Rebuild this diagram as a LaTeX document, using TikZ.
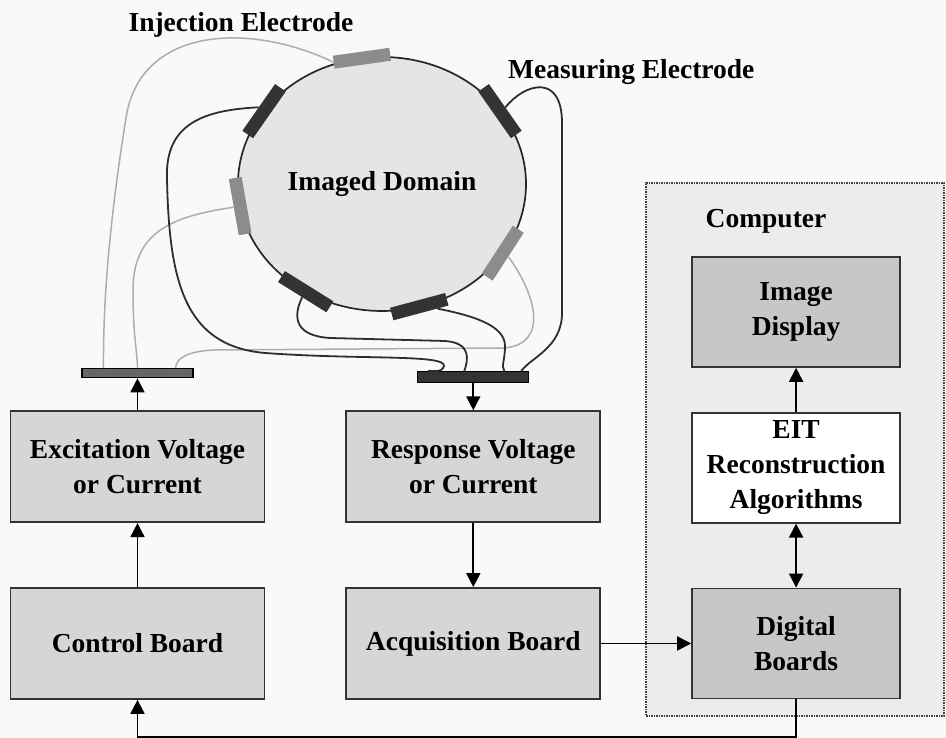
\documentclass[tikz,border=0pt]{standalone}
\usepackage{fontspec}
\setmainfont{Liberation Serif}
\usepackage{tikz}
\usetikzlibrary{positioning,arrows.meta,shapes.geometric,calc}
\definecolor{pagefill}{gray}{0.975}
\definecolor{compfill}{gray}{0.925}
\definecolor{boxfill}{gray}{0.84}
\definecolor{darkfill}{gray}{0.78}
\definecolor{domfill}{gray}{0.9}
\definecolor{injcol}{gray}{0.55}
\definecolor{meascol}{gray}{0.2}
\definecolor{wirelight}{gray}{0.68}
\definecolor{wiredark}{gray}{0.18}
\newcommand{\labelfont}{\fontsize{27.5}{35}\selectfont\bfseries}
\tikzset{
  blockbox/.style = {rectangle, draw=black!80, line width=1.8pt, fill=boxfill,
                     minimum width=254pt, minimum height=111pt, align=center,
                     font=\labelfont},
  pcbox/.style    = {blockbox, minimum width=208pt, minimum height=110pt},
  domnode/.style  = {ellipse, draw=black!85, line width=1.7pt, fill=domfill,
                     minimum width=288pt, minimum height=254pt, font=\labelfont},
  elec/.style     = {rectangle, minimum width=57pt, minimum height=13pt, inner sep=0pt},
  bus/.style      = {rectangle, draw=black, line width=1.2pt, minimum width=111pt,
                     inner sep=0pt},
  injwire/.style  = {wirelight, line width=1.5pt},
  measwire/.style = {wiredark, line width=1.8pt},
  arr/.style      = {-{Triangle[length=14pt,width=14pt]}, line width=1.8pt},
  dblarr/.style   = {{Triangle[length=14pt,width=14pt]}-{Triangle[length=14pt,width=14pt]},
                     line width=1.8pt},
  lbl/.style      = {font=\labelfont, inner sep=0pt},
  compbox/.style  = {rectangle, draw=black!75, densely dotted, line width=1.5pt,
                     fill=compfill},
}

\begin{document}
\begin{tikzpicture}[x=1pt, y=1pt, node distance=64pt and 80pt]
  \fill[pagefill] (0,0) rectangle (946,738);
  \useasboundingbox (0,0) rectangle (946,738);

  \node[compbox, minimum width=298pt, minimum height=533pt] (comp) at (795,288.5) {};
  \node[lbl] (complbl) at (766,517) {Computer};

  \node[blockbox] (ctrl) at (137.5,94.5) {Control Board};
  \node[blockbox, above=of ctrl] (exc) {Excitation Voltage\\or Current};
  \node[blockbox, right=of exc] (resp) {Response Voltage\\or Current};
  \node[blockbox, below=of resp] (acq) {Acquisition Board};
  \node[pcbox, fill=darkfill, right=90pt of acq] (dig) {Digital\\Boards};
  \node[pcbox, fill=white, above=of dig] (eit) {EIT\\Reconstruction\\Algorithms};
  \node[pcbox, fill=darkfill, above=44pt of eit] (disp) {Image\\Display};

  \node[bus, fill=black!60, minimum height=9pt, above=32pt of exc] (lbar) {};
  \node[bus, fill=black!80, minimum height=11pt, above=27pt of resp] (rbar) {};

  \node[domnode] (dom) at (382,554) {Imaged Domain};
  \foreach \n/\a/\c in {1/98/injcol, 2/145/meascol, 3/190/injcol, 4/238/meascol,
                        5/285/meascol, 6/327/injcol, 7/35/meascol}
    \node[elec, fill=\c, rotate=\a-90] (e\n) at ({382+144*cos(\a)},{554+127*sin(\a)}) {};

  \draw[injwire] (e1.west) .. controls (250,716) and (140,712) .. (126,620)
    .. controls (110,520) and (103,440) .. ([xshift=-34pt]lbar.north);
  \draw[injwire] (e3.north) .. controls (175,522) and (134,508) .. (133,450)
    .. controls (133,400) and (137,390) .. (lbar.north);
  \draw[injwire] (e6.north) .. controls (535,445) and (550,395) .. (505,390)
    -- (215,388) .. controls (188,387) and (176,380) .. ([xshift=38pt]lbar.north);

  \draw[measwire] (e2.north) .. controls (205,628) and (165,615) .. (167,560)
    .. controls (169,455) and (185,392) .. (265,385)
    .. controls (360,378) and (446,384) .. (444,372)
    .. controls (442,364) and (430,368) .. ([xshift=-45pt]rbar.north);
  \draw[measwire] (e4.north) .. controls (292,420) and (296,402) .. (330,400)
    -- (445,397) .. controls (472,395) and (468,378) .. ([xshift=-9pt]rbar.north);
  \draw[measwire] ($(e5.north)!.6!(e5.north west)$) .. controls (475,422) and (505,412) .. (505,392)
    .. controls (505,378) and (501,372) .. ([xshift=31pt]rbar.north);
  \draw[measwire] (e7.north) .. controls (525,655) and (562,665) .. (562,615)
    -- (562,425) .. controls (562,390) and (530,380) .. ([xshift=48pt]rbar.north);

  \draw[arr] (ctrl) -- (exc);
  \draw[arr] (exc) -- (lbar);
  \draw[arr] (rbar) -- (resp);
  \draw[arr] (resp) -- (acq);
  \draw[arr] (acq) -- (dig);
  \draw[arr] (eit) -- (disp);
  \draw[dblarr] (eit) -- (dig);
  \draw[arr] (dig.south) -- ++(0,-37.5) -| (ctrl.south);

  \node[lbl] (injlbl) at (241,713) {Injection Electrode};
  \node[lbl, anchor=west] (measlbl) at (508,666) {Measuring Electrode};
\end{tikzpicture}
\end{document}
